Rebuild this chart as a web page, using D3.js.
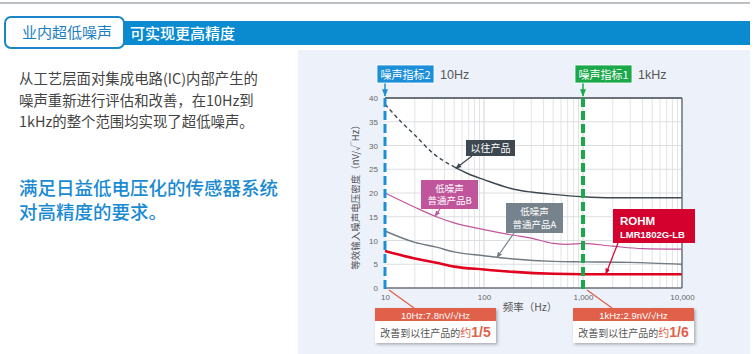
<!DOCTYPE html>
<html>
<head>
<meta charset="utf-8">
<script src="https://cdn.jsdelivr.net/npm/d3@7"></script>
<style>
  body { margin: 0; background: #fff; }
  svg text { font-family: "Noto Sans CJK SC", "Liberation Sans", sans-serif; }
  .num { font-family: "Liberation Sans", Arial, sans-serif; }
</style>
</head>
<body>
<div id="chart"></div>
<script>
// frequencies (Hz) and noise density (nV/√Hz)
let freqTicks = [10, 100, 1000, 10000];
let freqTickLabels = ['10', '100', '1,000', '10,000'];
let yTicks = [0, 5, 10, 15, 20, 25, 30, 35, 40];

let oldFreq = [10, 15, 20, 30, 50, 70, 100, 200, 300, 500, 1000, 2000, 10000];
let oldVals = [38.7, 34.7, 32.2, 28.5, 25.5, 24, 22.8, 20.8, 20.2, 19.7, 19.2, 19, 19];
let oldDashUntil = 50; // dashed part of the old product curve

let bFreq = [10, 20, 33, 50, 100, 200, 300, 500, 700, 1000, 2000, 4000, 10000];
let bVals = [20, 17, 15, 13.7, 12.3, 11.1, 10.5, 9.4, 9.2, 9.4, 8.8, 8.3, 8.2];

let aFreq = [10, 20, 33, 50, 100, 200, 500, 1000, 3000, 10000];
let aVals = [12, 9.6, 8.6, 7.6, 6.8, 6.1, 5.6, 5.5, 5.4, 5.0];

let rohmFreq = [10, 20, 33, 50, 100, 200, 500, 1000, 3000, 10000];
let rohmVals = [7.8, 6.2, 5.3, 4.5, 3.9, 3.4, 3.0, 2.9, 2.9, 2.9];

let markers = [
  { f: 10, tag: '噪声指标2', note: '10Hz', color: '#1d8fd8' },
  { f: 1000, tag: '噪声指标1', note: '1kHz', color: '#1aa84a' }
];
let resultBoxes = [
  { f: 10, head: '10Hz:7.8nV/√Hz', ratio: '1/5' },
  { f: 1000, head: '1kHz:2.9nV/√Hz', ratio: '1/6' }
];

const W = 756, H = 354;
const svg = d3.select('#chart').append('svg')
    .attr('width', W).attr('height', H);

const defs = svg.append('defs');
const shadow = defs.append('filter').attr('id', 'shadow')
    .attr('x', '-10%').attr('y', '-20%').attr('width', '130%').attr('height', '160%');
shadow.append('feDropShadow').attr('dx', 1.5).attr('dy', 1.5)
    .attr('stdDeviation', 1.5).attr('flood-color', '#000').attr('flood-opacity', 0.3);

function arrowDef(id, color) {
  defs.append('marker').attr('id', id)
      .attr('viewBox', '0 0 10 10').attr('refX', 9).attr('refY', 5)
      .attr('markerWidth', 5).attr('markerHeight', 5).attr('orient', 'auto')
      .append('path').attr('d', 'M0,1 L10,5 L0,9 Z').attr('fill', color);
}
arrowDef('arDark', '#3e4850');
arrowDef('arPink', '#c0559b');
arrowDef('arGray', '#6f7a83');
arrowDef('arRed', '#d4002e');
arrowDef('arBlue', '#1d8fd8');
arrowDef('arGreen', '#1aa84a');

// top rule + header
svg.append('line').attr('x1', 0).attr('x2', 750).attr('y1', 3).attr('y2', 3)
    .attr('stroke', '#a9acb0').attr('stroke-width', 1.5);
svg.append('rect').attr('x', 118).attr('y', 21).attr('width', 632).attr('height', 24)
    .attr('fill', '#0a8bd0');
svg.append('rect').attr('x', 5).attr('y', 17).attr('width', 119).attr('height', 31)
    .attr('rx', 6).attr('fill', '#fff').attr('stroke', '#1a86c8').attr('stroke-width', 2);
svg.append('text').attr('x', 22).attr('y', 38).attr('font-size', 15)
    .attr('fill', '#1b7ec2').text('业内超低噪声');
svg.append('text').attr('x', 130).attr('y', 38.5).attr('font-size', 15)
    .attr('fill', '#fff').attr('font-weight', 500).text('可实现更高精度');

// left description
let bodyLines = ['从工艺层面对集成电路(IC)内部产生的', '噪声重新进行评估和改善，在10Hz到', '1kHz的整个范围均实现了超低噪声。'];
svg.append('g').selectAll('text').data(bodyLines).join('text')
    .attr('x', 19).attr('y', (d, i) => 84 + i * 21.5)
    .attr('font-size', 14.4).attr('fill', '#444').text(d => d);
let leadLines = ['满足日益低电压化的传感器系统', '对高精度的要求。'];
svg.append('g').selectAll('text').data(leadLines).join('text')
    .attr('x', 19).attr('y', (d, i) => 195 + i * 24)
    .attr('font-size', 18.5).attr('font-weight', 500).attr('fill', '#1a8ad2').text(d => d);

// chart panel
svg.append('rect').attr('x', 298).attr('y', 50).attr('width', 452).attr('height', 304)
    .attr('fill', '#edf2fa');

const x = d3.scaleLog().domain([10, 10000]).range([385, 682]);
const y = d3.scaleLinear().domain([0, 40]).range([288, 98]);

svg.append('rect').attr('x', x(10)).attr('y', y(40))
    .attr('width', x(10000) - x(10)).attr('height', y(0) - y(40)).attr('fill', '#fff');

// grid
let minorF = [];
[10, 100, 1000].forEach(d => { for (let k = 2; k <= 9; k++) minorF.push(d * k); });
svg.append('g').selectAll('line').data(minorF.concat([100, 1000])).join('line')
    .attr('x1', d => x(d)).attr('x2', d => x(d)).attr('y1', y(40)).attr('y2', y(0))
    .attr('stroke', d => freqTicks.includes(d) ? '#cfd2d6' : '#e1e3e6').attr('stroke-width', 1);
svg.append('g').selectAll('line').data(yTicks.slice(1, -1)).join('line')
    .attr('x1', x(10)).attr('x2', x(10000)).attr('y1', d => y(d)).attr('y2', d => y(d))
    .attr('stroke', '#dcdee1').attr('stroke-width', 1);

// axes labels
const yAxis = svg.append('g').attr('transform', `translate(${x(10)},0)`)
    .call(d3.axisLeft(y).tickValues(yTicks).tickSize(0).tickPadding(7));
yAxis.select('.domain').remove();
yAxis.selectAll('text').attr('class', 'num').attr('font-size', 8).attr('fill', '#666');

const xAxis = svg.append('g').attr('transform', `translate(0,${y(0)})`)
    .call(d3.axisBottom(x).tickValues(freqTicks).tickFormat((d, i) => freqTickLabels[i])
      .tickSize(0).tickPadding(6));
xAxis.select('.domain').remove();
xAxis.selectAll('text').attr('class', 'num').attr('font-size', 8).attr('fill', '#666');

svg.append('text').attr('x', 530).attr('y', 311).attr('text-anchor', 'middle')
    .attr('font-size', 10.5).attr('fill', '#555').text('频率（Hz）');
svg.append('text').attr('transform', 'translate(359,195) rotate(-90)')
    .attr('text-anchor', 'middle').attr('font-size', 9.5).attr('fill', '#555')
    .text('等效输入噪声电压密度（nV/√Hz）');

// curves
const line = d3.line().x(d => x(d[0])).y(d => y(d[1])).curve(d3.curveMonotoneX);
const oldPts = d3.zip(oldFreq, oldVals);
svg.append('path').attr('d', line(oldPts.filter(d => d[0] <= oldDashUntil)))
    .attr('fill', 'none').attr('stroke', '#3e4850').attr('stroke-width', 1.4)
    .attr('stroke-dasharray', '4,3');
svg.append('path').attr('d', line(oldPts.filter(d => d[0] >= oldDashUntil)))
    .attr('fill', 'none').attr('stroke', '#3e4850').attr('stroke-width', 1.4);
svg.append('path').attr('d', line(d3.zip(bFreq, bVals)))
    .attr('fill', 'none').attr('stroke', '#c0559b').attr('stroke-width', 1.2);
svg.append('path').attr('d', line(d3.zip(aFreq, aVals)))
    .attr('fill', 'none').attr('stroke', '#6f7a83').attr('stroke-width', 1.4);
svg.append('path').attr('d', line(d3.zip(rohmFreq, rohmVals)))
    .attr('fill', 'none').attr('stroke', '#e2001f').attr('stroke-width', 2.6);

// frame
svg.append('line').attr('x1', x(10)).attr('x2', x(10000)).attr('y1', y(40)).attr('y2', y(40))
    .attr('stroke', '#6b7178').attr('stroke-width', 2);
svg.append('line').attr('x1', x(10000)).attr('x2', x(10000)).attr('y1', y(40)).attr('y2', y(0))
    .attr('stroke', '#6b7178').attr('stroke-width', 1.5);
svg.append('line').attr('x1', x(10)).attr('x2', x(10000)).attr('y1', y(0)).attr('y2', y(0))
    .attr('stroke', '#6b7178').attr('stroke-width', 1.5);

// callouts on curves
function callout(lines, bx, by, bw, bh, fill, tx, ty, fsize, marker, ax, ay) {
  svg.append('line').attr('x1', ax).attr('y1', ay).attr('x2', tx).attr('y2', ty)
      .attr('stroke', fill).attr('stroke-width', 1.2).attr('marker-end', `url(#${marker})`);
  svg.append('rect').attr('x', bx).attr('y', by).attr('width', bw).attr('height', bh).attr('fill', fill);
  lines.forEach((t, i) => {
    svg.append('text').attr('x', bx + bw / 2)
        .attr('y', by + bh / 2 + (i - (lines.length - 1) / 2) * (fsize + 3) + fsize * 0.36)
        .attr('text-anchor', 'middle').attr('font-size', fsize).attr('fill', '#fff').text(t);
  });
}
callout(['以往产品'], 466, 140, 49, 16, '#3e4850',
    x(52), y(25.2), 10, 'arDark', 472, 156);
callout(['低噪声', '普通产品B'], 421, 180, 57, 29, '#c0559b',
    x(32), y(15.1), 9.5, 'arPink', 440, 209);
callout(['低噪声', '普通产品A'], 506, 203, 57, 30, '#77838c',
    x(135), y(6.4), 9.5, 'arGray', 514, 233);

// ROHM box
svg.append('line').attr('x1', 618).attr('y1', 243).attr('x2', x(1700)).attr('y2', y(2.95))
    .attr('stroke', '#d4002e').attr('stroke-width', 1.2).attr('marker-end', 'url(#arRed)');
svg.append('rect').attr('x', 613).attr('y', 209).attr('width', 82).attr('height', 34).attr('fill', '#d4002e');
svg.append('text').attr('class', 'num').attr('x', 620).attr('y', 225).attr('font-size', 11.5)
    .attr('font-weight', 'bold').attr('fill', '#fff').text('ROHM');
svg.append('text').attr('class', 'num').attr('x', 620).attr('y', 238).attr('font-size', 9.5)
    .attr('font-weight', 'bold').attr('fill', '#fff').text('LMR1802G-LB');

// marker lines (noise spec)
markers.forEach(m => {
  const mx = x(m.f);
  svg.append('line').attr('x1', mx).attr('x2', mx).attr('y1', y(40)).attr('y2', y(0) + 2)
      .attr('stroke', m.color).attr('stroke-width', m.f === 10 ? 3 : 4)
      .attr('stroke-dasharray', '9,4');
  svg.append('line').attr('x1', mx).attr('x2', mx).attr('y1', 83).attr('y2', 96)
      .attr('stroke', m.color).attr('stroke-width', 1.5).attr('marker-end', `url(#${m.f === 10 ? 'arBlue' : 'arGreen'})`);
  svg.append('rect').attr('x', mx - 8).attr('y', 65).attr('width', 57).attr('height', 18)
      .attr('fill', m.color).attr('stroke', '#fff').attr('stroke-width', 0.8);
  svg.append('text').attr('x', mx + 20.5).attr('y', 78.5).attr('text-anchor', 'middle')
      .attr('font-size', 11).attr('fill', '#fff').text(m.tag);
  svg.append('text').attr('class', 'num').attr('x', mx + 55).attr('y', 79)
      .attr('font-size', 12.5).attr('fill', '#555').text(m.note);
});

// result boxes
resultBoxes.forEach(r => {
  const mx = x(r.f);
  const bx = mx - 10;
  svg.append('line').attr('x1', mx + 4).attr('y1', y(0) + 2).attr('x2', mx + 29).attr('y2', 308)
      .attr('stroke', '#e0604a').attr('stroke-width', 1.3);
  svg.append('rect').attr('x', bx).attr('y', 308).attr('width', 121).attr('height', 35)
      .attr('fill', '#fff').attr('filter', 'url(#shadow)');
  svg.append('rect').attr('x', bx).attr('y', 308).attr('width', 121).attr('height', 13)
      .attr('fill', '#e0604a');
  svg.append('text').attr('class', 'num').attr('x', bx + 60.5).attr('y', 318.5)
      .attr('text-anchor', 'middle').attr('font-size', 9.5).attr('fill', '#fff').text(r.head);
  const t = svg.append('text').attr('x', bx + 60.5).attr('y', 337).attr('text-anchor', 'middle')
      .attr('font-size', 10).attr('fill', '#555');
  t.append('tspan').text('改善到以往产品的');
  t.append('tspan').attr('fill', '#e0604a').attr('font-size', 11).text('约');
  t.append('tspan').attr('class', 'num').attr('fill', '#e0604a').attr('font-size', 14)
      .attr('font-weight', 'bold').text(r.ratio);
});
</script>
</body>
</html>
